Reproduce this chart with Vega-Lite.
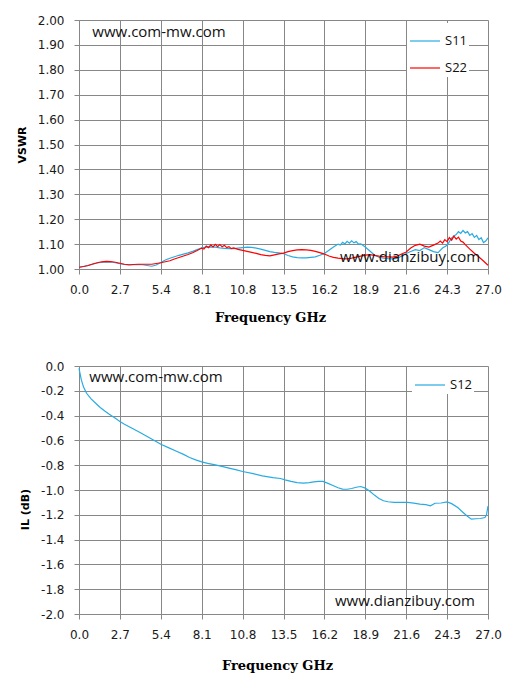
{
  "$schema": "https://vega.github.io/schema/vega-lite/v6.json",
  "background": "white",
  "padding": {"left": 16, "top": 14, "right": 5, "bottom": 5},
  "bounds": "flush",
  "spacing": 97,
  "datasets": {
    "vswr": [
      {"f": 0.0, "v": 1.007, "s": "S11"}, {"f": 0.3, "v": 1.010, "s": "S11"}, {"f": 0.6, "v": 1.014, "s": "S11"},
      {"f": 0.9, "v": 1.019, "s": "S11"}, {"f": 1.2, "v": 1.024, "s": "S11"}, {"f": 1.5, "v": 1.027, "s": "S11"},
      {"f": 1.8, "v": 1.029, "s": "S11"}, {"f": 2.1, "v": 1.028, "s": "S11"}, {"f": 2.4, "v": 1.025, "s": "S11"},
      {"f": 2.7, "v": 1.021, "s": "S11"}, {"f": 3.0, "v": 1.018, "s": "S11"}, {"f": 3.3, "v": 1.016, "s": "S11"},
      {"f": 3.6, "v": 1.017, "s": "S11"}, {"f": 3.9, "v": 1.018, "s": "S11"}, {"f": 4.2, "v": 1.017, "s": "S11"},
      {"f": 4.5, "v": 1.014, "s": "S11"}, {"f": 4.8, "v": 1.011, "s": "S11"}, {"f": 5.1, "v": 1.016, "s": "S11"},
      {"f": 5.4, "v": 1.026, "s": "S11"}, {"f": 5.7, "v": 1.036, "s": "S11"}, {"f": 6.0, "v": 1.043, "s": "S11"},
      {"f": 6.3, "v": 1.049, "s": "S11"}, {"f": 6.6, "v": 1.055, "s": "S11"}, {"f": 6.9, "v": 1.060, "s": "S11"},
      {"f": 7.2, "v": 1.065, "s": "S11"}, {"f": 7.5, "v": 1.071, "s": "S11"}, {"f": 7.8, "v": 1.078, "s": "S11"},
      {"f": 8.1, "v": 1.085, "s": "S11"}, {"f": 8.4, "v": 1.088, "s": "S11"}, {"f": 8.7, "v": 1.089, "s": "S11"},
      {"f": 9.0, "v": 1.088, "s": "S11"}, {"f": 9.3, "v": 1.085, "s": "S11"}, {"f": 9.6, "v": 1.083, "s": "S11"},
      {"f": 9.9, "v": 1.082, "s": "S11"}, {"f": 10.2, "v": 1.082, "s": "S11"}, {"f": 10.5, "v": 1.084, "s": "S11"},
      {"f": 10.8, "v": 1.086, "s": "S11"}, {"f": 11.1, "v": 1.088, "s": "S11"}, {"f": 11.4, "v": 1.087, "s": "S11"},
      {"f": 11.7, "v": 1.084, "s": "S11"}, {"f": 12.0, "v": 1.080, "s": "S11"}, {"f": 12.3, "v": 1.075, "s": "S11"},
      {"f": 12.6, "v": 1.070, "s": "S11"}, {"f": 12.9, "v": 1.067, "s": "S11"}, {"f": 13.2, "v": 1.065, "s": "S11"},
      {"f": 13.5, "v": 1.062, "s": "S11"}, {"f": 13.8, "v": 1.054, "s": "S11"}, {"f": 14.1, "v": 1.049, "s": "S11"},
      {"f": 14.4, "v": 1.046, "s": "S11"}, {"f": 14.7, "v": 1.045, "s": "S11"}, {"f": 15.0, "v": 1.045, "s": "S11"},
      {"f": 15.3, "v": 1.047, "s": "S11"}, {"f": 15.6, "v": 1.049, "s": "S11"}, {"f": 15.9, "v": 1.055, "s": "S11"},
      {"f": 16.2, "v": 1.062, "s": "S11"}, {"f": 16.5, "v": 1.075, "s": "S11"}, {"f": 16.8, "v": 1.088, "s": "S11"},
      {"f": 17.1, "v": 1.100, "s": "S11"}, {"f": 17.25, "v": 1.096, "s": "S11"}, {"f": 17.4, "v": 1.107, "s": "S11"},
      {"f": 17.55, "v": 1.101, "s": "S11"}, {"f": 17.7, "v": 1.111, "s": "S11"}, {"f": 17.85, "v": 1.104, "s": "S11"},
      {"f": 18.0, "v": 1.113, "s": "S11"}, {"f": 18.15, "v": 1.105, "s": "S11"}, {"f": 18.3, "v": 1.110, "s": "S11"},
      {"f": 18.45, "v": 1.100, "s": "S11"}, {"f": 18.6, "v": 1.101, "s": "S11"}, {"f": 18.9, "v": 1.088, "s": "S11"},
      {"f": 19.2, "v": 1.072, "s": "S11"}, {"f": 19.5, "v": 1.056, "s": "S11"}, {"f": 19.8, "v": 1.047, "s": "S11"},
      {"f": 20.1, "v": 1.044, "s": "S11"}, {"f": 20.4, "v": 1.042, "s": "S11"}, {"f": 20.7, "v": 1.041, "s": "S11"},
      {"f": 21.0, "v": 1.043, "s": "S11"}, {"f": 21.3, "v": 1.052, "s": "S11"}, {"f": 21.6, "v": 1.062, "s": "S11"},
      {"f": 21.9, "v": 1.070, "s": "S11"}, {"f": 22.2, "v": 1.078, "s": "S11"}, {"f": 22.5, "v": 1.074, "s": "S11"},
      {"f": 22.8, "v": 1.086, "s": "S11"}, {"f": 23.1, "v": 1.078, "s": "S11"}, {"f": 23.4, "v": 1.070, "s": "S11"},
      {"f": 23.7, "v": 1.066, "s": "S11"}, {"f": 24.0, "v": 1.084, "s": "S11"}, {"f": 24.3, "v": 1.095, "s": "S11"},
      {"f": 24.6, "v": 1.125, "s": "S11"}, {"f": 24.75, "v": 1.133, "s": "S11"}, {"f": 24.9, "v": 1.138, "s": "S11"},
      {"f": 25.05, "v": 1.150, "s": "S11"}, {"f": 25.2, "v": 1.143, "s": "S11"}, {"f": 25.35, "v": 1.155, "s": "S11"},
      {"f": 25.5, "v": 1.145, "s": "S11"}, {"f": 25.65, "v": 1.150, "s": "S11"}, {"f": 25.8, "v": 1.135, "s": "S11"},
      {"f": 25.95, "v": 1.142, "s": "S11"}, {"f": 26.1, "v": 1.127, "s": "S11"}, {"f": 26.25, "v": 1.135, "s": "S11"},
      {"f": 26.4, "v": 1.118, "s": "S11"}, {"f": 26.55, "v": 1.126, "s": "S11"}, {"f": 26.7, "v": 1.106, "s": "S11"},
      {"f": 26.85, "v": 1.112, "s": "S11"}, {"f": 27.0, "v": 1.125, "s": "S11"},

      {"f": 0.0, "v": 1.007, "s": "S22"}, {"f": 0.3, "v": 1.010, "s": "S22"}, {"f": 0.6, "v": 1.014, "s": "S22"},
      {"f": 0.9, "v": 1.020, "s": "S22"}, {"f": 1.2, "v": 1.025, "s": "S22"}, {"f": 1.5, "v": 1.029, "s": "S22"},
      {"f": 1.8, "v": 1.031, "s": "S22"}, {"f": 2.1, "v": 1.030, "s": "S22"}, {"f": 2.4, "v": 1.027, "s": "S22"},
      {"f": 2.7, "v": 1.023, "s": "S22"}, {"f": 3.0, "v": 1.019, "s": "S22"}, {"f": 3.3, "v": 1.017, "s": "S22"},
      {"f": 3.6, "v": 1.018, "s": "S22"}, {"f": 3.9, "v": 1.019, "s": "S22"}, {"f": 4.2, "v": 1.019, "s": "S22"},
      {"f": 4.5, "v": 1.019, "s": "S22"}, {"f": 4.8, "v": 1.019, "s": "S22"}, {"f": 5.1, "v": 1.022, "s": "S22"},
      {"f": 5.4, "v": 1.025, "s": "S22"}, {"f": 5.7, "v": 1.029, "s": "S22"}, {"f": 6.0, "v": 1.033, "s": "S22"},
      {"f": 6.3, "v": 1.040, "s": "S22"}, {"f": 6.6, "v": 1.046, "s": "S22"}, {"f": 6.9, "v": 1.052, "s": "S22"},
      {"f": 7.2, "v": 1.058, "s": "S22"}, {"f": 7.5, "v": 1.065, "s": "S22"}, {"f": 7.8, "v": 1.074, "s": "S22"},
      {"f": 8.1, "v": 1.084, "s": "S22"}, {"f": 8.25, "v": 1.080, "s": "S22"}, {"f": 8.4, "v": 1.092, "s": "S22"},
      {"f": 8.55, "v": 1.086, "s": "S22"}, {"f": 8.7, "v": 1.097, "s": "S22"}, {"f": 8.85, "v": 1.089, "s": "S22"},
      {"f": 9.0, "v": 1.099, "s": "S22"}, {"f": 9.15, "v": 1.090, "s": "S22"}, {"f": 9.3, "v": 1.098, "s": "S22"},
      {"f": 9.45, "v": 1.089, "s": "S22"}, {"f": 9.6, "v": 1.095, "s": "S22"}, {"f": 9.75, "v": 1.086, "s": "S22"},
      {"f": 9.9, "v": 1.090, "s": "S22"}, {"f": 10.05, "v": 1.082, "s": "S22"}, {"f": 10.2, "v": 1.085, "s": "S22"},
      {"f": 10.5, "v": 1.079, "s": "S22"}, {"f": 10.8, "v": 1.075, "s": "S22"}, {"f": 11.1, "v": 1.071, "s": "S22"},
      {"f": 11.4, "v": 1.067, "s": "S22"}, {"f": 11.7, "v": 1.063, "s": "S22"}, {"f": 12.0, "v": 1.058, "s": "S22"},
      {"f": 12.3, "v": 1.055, "s": "S22"}, {"f": 12.6, "v": 1.053, "s": "S22"}, {"f": 12.9, "v": 1.057, "s": "S22"},
      {"f": 13.2, "v": 1.061, "s": "S22"}, {"f": 13.5, "v": 1.064, "s": "S22"}, {"f": 13.8, "v": 1.070, "s": "S22"},
      {"f": 14.1, "v": 1.074, "s": "S22"}, {"f": 14.4, "v": 1.077, "s": "S22"}, {"f": 14.7, "v": 1.078, "s": "S22"},
      {"f": 15.0, "v": 1.077, "s": "S22"}, {"f": 15.3, "v": 1.075, "s": "S22"}, {"f": 15.6, "v": 1.071, "s": "S22"},
      {"f": 15.9, "v": 1.066, "s": "S22"}, {"f": 16.2, "v": 1.060, "s": "S22"}, {"f": 16.5, "v": 1.052, "s": "S22"},
      {"f": 16.8, "v": 1.047, "s": "S22"}, {"f": 17.1, "v": 1.044, "s": "S22"}, {"f": 17.4, "v": 1.042, "s": "S22"},
      {"f": 17.7, "v": 1.041, "s": "S22"}, {"f": 18.0, "v": 1.044, "s": "S22"}, {"f": 18.3, "v": 1.048, "s": "S22"},
      {"f": 18.6, "v": 1.052, "s": "S22"}, {"f": 18.9, "v": 1.056, "s": "S22"}, {"f": 19.2, "v": 1.058, "s": "S22"},
      {"f": 19.5, "v": 1.055, "s": "S22"}, {"f": 19.8, "v": 1.052, "s": "S22"}, {"f": 20.1, "v": 1.050, "s": "S22"},
      {"f": 20.4, "v": 1.049, "s": "S22"}, {"f": 20.7, "v": 1.048, "s": "S22"}, {"f": 21.0, "v": 1.052, "s": "S22"},
      {"f": 21.3, "v": 1.060, "s": "S22"}, {"f": 21.6, "v": 1.068, "s": "S22"}, {"f": 21.9, "v": 1.084, "s": "S22"},
      {"f": 22.2, "v": 1.095, "s": "S22"}, {"f": 22.5, "v": 1.100, "s": "S22"}, {"f": 22.8, "v": 1.092, "s": "S22"},
      {"f": 23.1, "v": 1.088, "s": "S22"}, {"f": 23.4, "v": 1.096, "s": "S22"}, {"f": 23.7, "v": 1.104, "s": "S22"},
      {"f": 23.85, "v": 1.112, "s": "S22"}, {"f": 24.0, "v": 1.104, "s": "S22"}, {"f": 24.15, "v": 1.118, "s": "S22"},
      {"f": 24.3, "v": 1.110, "s": "S22"}, {"f": 24.45, "v": 1.126, "s": "S22"}, {"f": 24.6, "v": 1.116, "s": "S22"},
      {"f": 24.75, "v": 1.132, "s": "S22"}, {"f": 24.9, "v": 1.120, "s": "S22"}, {"f": 25.05, "v": 1.128, "s": "S22"},
      {"f": 25.2, "v": 1.112, "s": "S22"}, {"f": 25.35, "v": 1.108, "s": "S22"}, {"f": 25.5, "v": 1.098, "s": "S22"},
      {"f": 25.8, "v": 1.080, "s": "S22"}, {"f": 26.1, "v": 1.063, "s": "S22"}, {"f": 26.4, "v": 1.048, "s": "S22"},
      {"f": 26.7, "v": 1.032, "s": "S22"}, {"f": 27.0, "v": 1.015, "s": "S22"}
    ],
    "il": [
      {"f": 0.0, "v": -0.02, "s": "S12"}, {"f": 0.05, "v": -0.05, "s": "S12"}, {"f": 0.15, "v": -0.11, "s": "S12"},
      {"f": 0.3, "v": -0.17, "s": "S12"}, {"f": 0.5, "v": -0.22, "s": "S12"}, {"f": 0.8, "v": -0.265, "s": "S12"},
      {"f": 1.1, "v": -0.30, "s": "S12"}, {"f": 1.4, "v": -0.335, "s": "S12"}, {"f": 1.7, "v": -0.363, "s": "S12"},
      {"f": 2.0, "v": -0.389, "s": "S12"}, {"f": 2.4, "v": -0.422, "s": "S12"}, {"f": 2.7, "v": -0.448, "s": "S12"},
      {"f": 3.0, "v": -0.470, "s": "S12"}, {"f": 3.5, "v": -0.502, "s": "S12"}, {"f": 4.0, "v": -0.535, "s": "S12"},
      {"f": 4.5, "v": -0.568, "s": "S12"}, {"f": 5.0, "v": -0.603, "s": "S12"}, {"f": 5.4, "v": -0.631, "s": "S12"},
      {"f": 5.9, "v": -0.658, "s": "S12"}, {"f": 6.4, "v": -0.685, "s": "S12"}, {"f": 6.9, "v": -0.713, "s": "S12"},
      {"f": 7.3, "v": -0.738, "s": "S12"}, {"f": 7.7, "v": -0.757, "s": "S12"}, {"f": 8.1, "v": -0.773, "s": "S12"},
      {"f": 8.5, "v": -0.785, "s": "S12"}, {"f": 9.0, "v": -0.797, "s": "S12"}, {"f": 9.5, "v": -0.812, "s": "S12"},
      {"f": 9.9, "v": -0.824, "s": "S12"}, {"f": 10.4, "v": -0.838, "s": "S12"}, {"f": 10.8, "v": -0.851, "s": "S12"},
      {"f": 11.5, "v": -0.868, "s": "S12"}, {"f": 12.1, "v": -0.886, "s": "S12"}, {"f": 12.8, "v": -0.900, "s": "S12"},
      {"f": 13.3, "v": -0.907, "s": "S12"}, {"f": 13.6, "v": -0.918, "s": "S12"}, {"f": 14.0, "v": -0.930, "s": "S12"},
      {"f": 14.4, "v": -0.940, "s": "S12"}, {"f": 14.8, "v": -0.945, "s": "S12"}, {"f": 15.2, "v": -0.940, "s": "S12"},
      {"f": 15.5, "v": -0.934, "s": "S12"}, {"f": 15.8, "v": -0.930, "s": "S12"}, {"f": 16.1, "v": -0.931, "s": "S12"},
      {"f": 16.4, "v": -0.945, "s": "S12"}, {"f": 16.8, "v": -0.966, "s": "S12"}, {"f": 17.1, "v": -0.982, "s": "S12"},
      {"f": 17.4, "v": -0.993, "s": "S12"}, {"f": 17.7, "v": -0.994, "s": "S12"}, {"f": 18.0, "v": -0.988, "s": "S12"},
      {"f": 18.3, "v": -0.978, "s": "S12"}, {"f": 18.6, "v": -0.972, "s": "S12"}, {"f": 18.9, "v": -0.985, "s": "S12"},
      {"f": 19.2, "v": -1.010, "s": "S12"}, {"f": 19.5, "v": -1.041, "s": "S12"}, {"f": 19.8, "v": -1.068, "s": "S12"},
      {"f": 20.1, "v": -1.087, "s": "S12"}, {"f": 20.4, "v": -1.095, "s": "S12"}, {"f": 20.8, "v": -1.100, "s": "S12"},
      {"f": 21.2, "v": -1.099, "s": "S12"}, {"f": 21.7, "v": -1.100, "s": "S12"}, {"f": 22.1, "v": -1.106, "s": "S12"},
      {"f": 22.5, "v": -1.114, "s": "S12"}, {"f": 22.9, "v": -1.118, "s": "S12"}, {"f": 23.2, "v": -1.128, "s": "S12"},
      {"f": 23.5, "v": -1.107, "s": "S12"}, {"f": 23.9, "v": -1.105, "s": "S12"}, {"f": 24.3, "v": -1.096, "s": "S12"},
      {"f": 24.6, "v": -1.110, "s": "S12"}, {"f": 25.0, "v": -1.141, "s": "S12"}, {"f": 25.3, "v": -1.175, "s": "S12"},
      {"f": 25.6, "v": -1.208, "s": "S12"}, {"f": 25.9, "v": -1.235, "s": "S12"}, {"f": 26.2, "v": -1.232, "s": "S12"},
      {"f": 26.5, "v": -1.230, "s": "S12"}, {"f": 26.8, "v": -1.222, "s": "S12"}, {"f": 26.9, "v": -1.200, "s": "S12"},
      {"f": 27.0, "v": -1.130, "s": "S12"}
    ]
  },
  "resolve": {"scale": {"color": "independent"}, "legend": {"color": "independent"}},
  "vconcat": [
    {
      "width": 409,
      "height": 249,
      "layer": [
        {
          "data": {"name": "vswr"},
          "mark": {"type": "line", "strokeWidth": 1.2},
          "encoding": {
            "x": {
              "field": "f", "type": "quantitative",
              "scale": {"domain": [0, 27], "nice": false, "zero": false},
              "axis": {"values": [0, 2.7, 5.4, 8.1, 10.8, 13.5, 16.2, 18.9, 21.6, 24.3, 27], "tickCount": 30, "format": ".1f", "title": "Frequency GHz", "titleX": 191}
            },
            "y": {
              "field": "v", "type": "quantitative",
              "scale": {"domain": [1, 2], "nice": false, "zero": false},
              "axis": {"values": [1, 1.1, 1.2, 1.3, 1.4, 1.5, 1.6, 1.7, 1.8, 1.9, 2], "tickCount": 30, "format": ".2f", "title": "VSWR"}
            },
            "color": {
              "field": "s", "type": "nominal",
              "scale": {"domain": ["S11", "S22"], "range": ["#29ABE2", "#FF0000"]},
              "legend": {"title": null, "orient": "none", "legendX": 328, "legendY": 3}
            }
          }
        },
        {
          "data": {"values": [{}]},
          "mark": {"type": "text", "align": "left", "baseline": "middle", "font": "Open Sans", "fontSize": 15, "color": "#111"},
          "encoding": {
            "x": {"datum": 0.88, "type": "quantitative"},
            "y": {"datum": 1.951, "type": "quantitative"},
            "text": {"value": "www.com-mw.com"}
          }
        },
        {
          "data": {"values": [{}]},
          "mark": {"type": "text", "align": "right", "baseline": "middle", "font": "Open Sans", "fontSize": 15, "color": "#111"},
          "encoding": {
            "x": {"datum": 26.48, "type": "quantitative"},
            "y": {"datum": 1.047, "type": "quantitative"},
            "text": {"value": "www.dianzibuy.com"}
          }
        }
      ]
    },
    {
      "width": 409,
      "height": 248,
      "layer": [
        {
          "data": {"name": "il"},
          "mark": {"type": "line", "strokeWidth": 1.2},
          "encoding": {
            "x": {
              "field": "f", "type": "quantitative",
              "scale": {"domain": [0, 27], "nice": false, "zero": false},
              "axis": {"values": [0, 2.7, 5.4, 8.1, 10.8, 13.5, 16.2, 18.9, 21.6, 24.3, 27], "tickCount": 30, "format": ".1f", "title": "Frequency GHz", "titleX": 198, "titlePadding": 19}
            },
            "y": {
              "field": "v", "type": "quantitative",
              "scale": {"domain": [-2, 0], "nice": false, "zero": false},
              "axis": {
                "values": [-2, -1.8, -1.6, -1.4, -1.2, -1, -0.8, -0.6, -0.4, -0.2, 0],
                "tickCount": 30,
                "labelExpr": "replace(format(datum.value, '.1f'), '\u2212', '-')",
                "title": "IL (dB)", "titleY": 143
              }
            },
            "color": {
              "field": "s", "type": "nominal",
              "scale": {"domain": ["S12"], "range": ["#29ABE2"]},
              "legend": {"title": null, "orient": "none", "legendX": 333, "legendY": 1}
            }
          }
        },
        {
          "data": {"values": [{}]},
          "mark": {"type": "text", "align": "left", "baseline": "middle", "font": "Open Sans", "fontSize": 15, "color": "#111"},
          "encoding": {
            "x": {"datum": 0.68, "type": "quantitative"},
            "y": {"datum": -0.091, "type": "quantitative"},
            "text": {"value": "www.com-mw.com"}
          }
        },
        {
          "data": {"values": [{}]},
          "mark": {"type": "text", "align": "right", "baseline": "middle", "font": "Open Sans", "fontSize": 15, "color": "#111"},
          "encoding": {
            "x": {"datum": 26.14, "type": "quantitative"},
            "y": {"datum": -1.896, "type": "quantitative"},
            "text": {"value": "www.dianzibuy.com"}
          }
        }
      ]
    }
  ],
  "config": {
    "view": {"stroke": null},
    "axis": {
      "grid": true,
      "gridColor": "#878787",
      "gridOpacity": 1,
      "gridWidth": 1,
      "domainColor": "#878787",
      "domainWidth": 1,
      "tickColor": "#878787",
      "tickSize": 5,
      "labelFont": "DejaVu Sans",
      "labelFontSize": 12,
      "labelColor": "#1a1a1a",
      "labelFlush": false,
      "labelOverlap": false,
      "labelBound": false,
      "labelPadding": 10
    },
    "axisX": {
      "titleFont": "DejaVu Serif",
      "titleFontSize": 13,
      "titleFontWeight": "bold",
      "titleColor": "#000",
      "titlePadding": 16
    },
    "axisY": {
      "titleFont": "DejaVu Sans",
      "titleFontSize": 11,
      "titleFontWeight": "bold",
      "titleColor": "#000",
      "titlePadding": 10
    },
    "legend": {
      "symbolType": "stroke",
      "symbolSize": 900,
      "symbolStrokeWidth": 1.2,
      "labelFont": "Open Sans",
      "labelFontSize": 13,
      "labelColor": "#111",
      "labelOffset": 4,
      "rowPadding": 4,
      "padding": 2,
      "fillColor": "white",
      "strokeColor": null
    }
  }
}
